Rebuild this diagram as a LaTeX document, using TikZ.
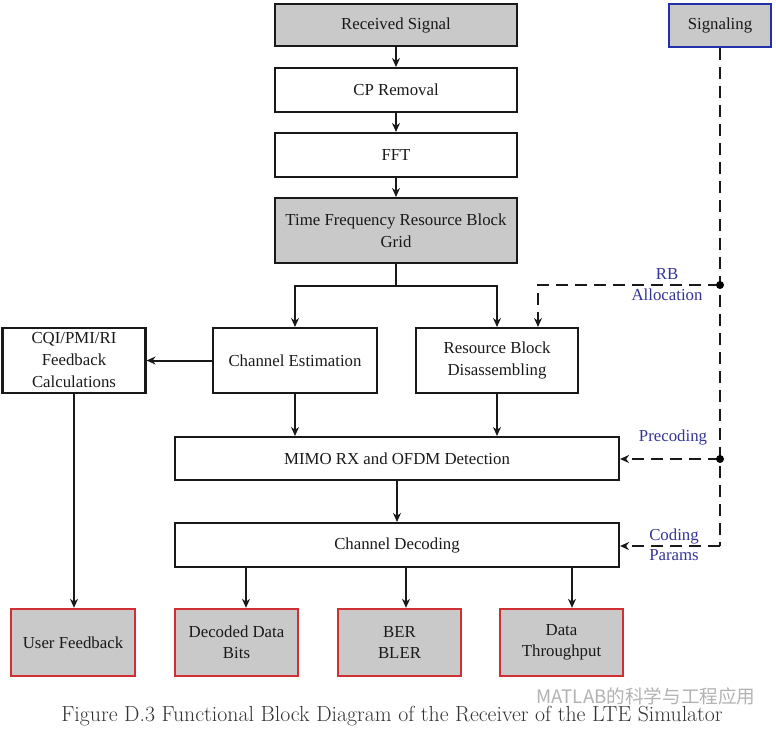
\documentclass[tikz,border=0pt]{standalone}
\usepackage{fontspec}
\setmainfont{Liberation Serif}
\newfontfamily\lmfont{Latin Modern Roman}
\newfontfamily\cjkfont{Noto Sans CJK SC}
\usetikzlibrary{arrows.meta}
\definecolor{boxgray}{RGB}{201,201,201}
\definecolor{redline}{RGB}{208,48,52}
\definecolor{blueline}{RGB}{36,48,170}
\definecolor{labblue}{RGB}{52,52,150}
\tikzset{
  blk/.style={draw=black!90, line width=2.1pt, inner sep=0pt, align=center, text=black!90,
    font=\fontsize{16.8}{22}\selectfont},
  shaded/.style={blk, fill=boxgray},
  outbox/.style={blk, fill=boxgray, draw=redline, line width=2.4pt, font=\fontsize{16.8}{21}\selectfont},
  sigbox/.style={blk, fill=boxgray, draw=blueline, line width=2.2pt},
  arr/.style={line width=2pt, black!90, -{Stealth[length=9pt,width=8pt]}},
  ln/.style={line width=2pt, black!90},
  dsh/.style={line width=2pt, black!90, dash pattern=on 12pt off 7pt},
  darr/.style={dsh, -{Stealth[length=9pt,width=8pt]}},
  lab/.style={text=labblue, font=\fontsize{16.8}{20}\selectfont, align=center, inner sep=0pt},
  dot/.style={circle, fill=black, inner sep=0pt, minimum size=8pt}
}
\begin{document}
\begin{tikzpicture}[x=1pt,y=-1pt]
\useasboundingbox (0,0) rectangle (776,732);
% main chain
\node[shaded, minimum width=242pt, minimum height=42pt] (rs) at (396,25) {Received Signal};
\node[blk, minimum width=242pt, minimum height=44pt] (cp) at (396,90) {CP Removal};
\node[blk, minimum width=242pt, minimum height=44pt] (fft) at (396,155) {FFT};
\node[shaded, minimum width=242pt, minimum height=65pt] (tf) at (396,230.5) {Time Frequency Resource Block\\Grid};
\node[sigbox, minimum width=102pt, minimum height=43pt] (sig) at (720,25.5) {Signaling};
\node[blk, minimum width=164pt, minimum height=65pt] (ce) at (295,360.5) {Channel Estimation};
\node[blk, minimum width=162pt, minimum height=65pt] (rbd) at (497,360.5) {Resource Block\\Disassembling};
\node[blk, minimum width=143pt, minimum height=65pt] (cqi) at (74,360.5) {CQI/PMI/RI\\Feedback\\Calculations};
\node[blk, minimum width=444pt, minimum height=43pt] (mimo) at (397,458.5) {MIMO RX and OFDM Detection};
\node[blk, minimum width=444pt, minimum height=44pt] (cd) at (397,545) {Channel Decoding};
\node[outbox, minimum width=124pt, minimum height=67pt] (uf) at (73,642.5) {User Feedback};
\node[outbox, minimum width=123pt, minimum height=67pt] (ddb) at (236.5,642.5) {Decoded Data\\Bits};
\node[outbox, minimum width=123pt, minimum height=67pt] (ber) at (399.5,642.5) {BER\\BLER};
\node[outbox, minimum width=123pt, minimum height=67pt] (dt) at (561.5,642.5) {Data\\Throughput};
% chain arrows
\draw[arr] (rs) -- (cp);
\draw[arr] (cp) -- (fft);
\draw[arr] (fft) -- (tf);
\coordinate (split) at (396,286);
\draw[ln] (tf.south) -- (split);
\draw[arr] (split) -| (ce.north);
\draw[arr] (split) -| (rbd.north);
\draw[arr] (ce.west) -- (cqi.east);
\draw[arr] (cqi.south) -- (cqi.south |- uf.north);
\draw[arr] (ce.south) -- (ce.south |- mimo.north);
\draw[arr] (rbd.south) -- (rbd.south |- mimo.north);
\draw[arr] (mimo) -- (cd);
\coordinate (a1) at (246,0);
\coordinate (a2) at (406,0);
\coordinate (a3) at (572,0);
\draw[arr] (cd.south -| a1) -- (ddb.north -| a1);
\draw[arr] (cd.south -| a2) -- (ber.north -| a2);
\draw[arr] (cd.south -| a3) -- (dt.north -| a3);
% signaling
\coordinate (jrb) at (720,285);
\coordinate (jpre) at (720,459);
\coordinate (jcod) at (720,546);
\coordinate (rbturn) at (538,285);
\draw[dsh] (sig.south) -- (jcod);
\draw[darr] (jcod) -- (jcod -| cd.east);
\draw[darr] (jpre) -- (jpre -| mimo.east);
\draw[darr] (jrb) -- (rbturn) -- (rbturn |- rbd.north);
\node[dot] (d1) at (jrb) {};
\node[dot] (d2) at (jpre) {};
\node[lab] (lrb) at (667,285) {RB\\[1pt]Allocation};
\node[lab] (lpre) at (673,437) {Precoding};
\node[lab] (lcod) at (674,545) {Coding\\[0pt]Params};
% caption and watermark
\node[inner sep=0pt, text=black!80, font=\lmfont\fontsize{21.8}{24}\selectfont] (cap) at (392,716) {Figure D.3 Functional Block Diagram of the Receiver of the LTE Simulator};
\node[inner sep=0pt, text=black!30, font=\cjkfont\fontsize{18.6}{20}\selectfont] (wm) at (646,696) {MATLAB的科学与工程应用};
\end{tikzpicture}
\end{document}
